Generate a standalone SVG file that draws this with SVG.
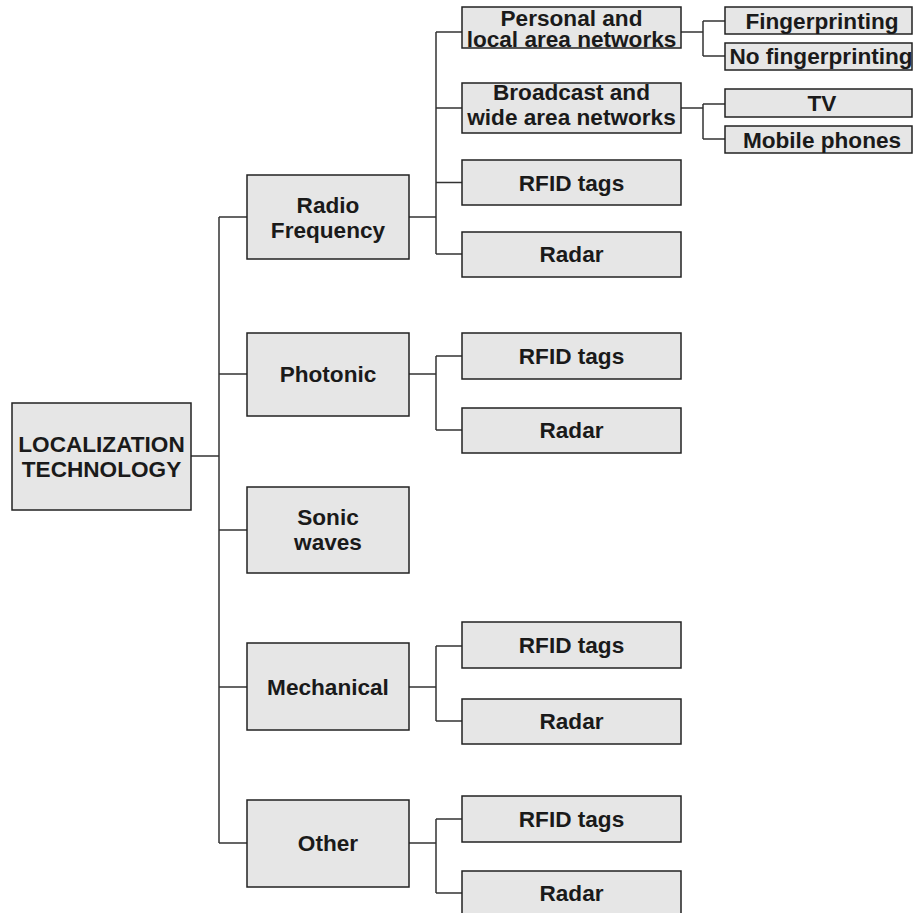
<svg xmlns="http://www.w3.org/2000/svg" width="913" height="913" viewBox="0 0 913 913">
<style>
.box{fill:#e6e6e6;stroke:#222;stroke-width:1.5}
.t{font-family:"Liberation Sans",Arial,sans-serif;font-weight:bold;font-size:22.6px;fill:#1a1a1a;text-anchor:middle}
.c{fill:none;stroke:#333;stroke-width:1.5}
</style>
<rect width="913" height="913" fill="#fff"/>
<g id="connectors" class="c">
<path d="M191 456H219M219 217V843M219 217H247M219 374H247M219 530H247M219 687H247M219 843H247"/>
<path d="M409 217H436M436 32V254M436 32H462M436 108H462M436 182.5H462M436 254H462"/>
<path d="M409 374H436M436 356V430M436 356H462M436 430H462"/>
<path d="M409 687H436M436 646V721M436 646H462M436 721H462"/>
<path d="M409 843H436M436 819V893M436 819H462M436 893H462"/>
<path d="M681 32H703M703 21V56M703 21H725M703 56H725"/>
<path d="M681 108H703M703 104V139M703 104H725M703 139H725"/>
</g>
<g id="root"><rect class="box" x="12" y="403" width="179" height="107"/><text class="t" x="101.5" y="452">LOCALIZATION</text><text class="t" x="101.5" y="477">TECHNOLOGY</text></g>
<g id="radio"><rect class="box" x="247" y="175" width="162" height="84"/><text class="t" x="328" y="212.5">Radio</text><text class="t" x="328" y="238">Frequency</text></g>
<g id="photonic"><rect class="box" x="247" y="333" width="162" height="83"/><text class="t" x="328" y="382">Photonic</text></g>
<g id="sonic"><rect class="box" x="247" y="487" width="162" height="86"/><text class="t" x="328" y="525">Sonic</text><text class="t" x="328" y="550">waves</text></g>
<g id="mechanical"><rect class="box" x="247" y="643" width="162" height="87"/><text class="t" x="328" y="694.5">Mechanical</text></g>
<g id="other"><rect class="box" x="247" y="800" width="162" height="87"/><text class="t" x="328" y="850.5">Other</text></g>
<g id="personal"><rect class="box" x="462" y="7" width="219" height="41"/><text class="t" x="571.5" y="26">Personal and</text><text class="t" x="571.5" y="46.5">local area networks</text></g>
<g id="broadcast"><rect class="box" x="462" y="83" width="219" height="50"/><text class="t" x="571.5" y="100">Broadcast and</text><text class="t" x="571.5" y="125">wide area networks</text></g>
<g id="rf-rfid"><rect class="box" x="462" y="160" width="219" height="45"/><text class="t" x="571.5" y="190.5">RFID tags</text></g>
<g id="rf-radar"><rect class="box" x="462" y="232" width="219" height="45"/><text class="t" x="571.5" y="262">Radar</text></g>
<g id="ph-rfid"><rect class="box" x="462" y="333" width="219" height="46"/><text class="t" x="571.5" y="364">RFID tags</text></g>
<g id="ph-radar"><rect class="box" x="462" y="408" width="219" height="45"/><text class="t" x="571.5" y="438">Radar</text></g>
<g id="me-rfid"><rect class="box" x="462" y="622" width="219" height="46"/><text class="t" x="571.5" y="653">RFID tags</text></g>
<g id="me-radar"><rect class="box" x="462" y="699" width="219" height="45"/><text class="t" x="571.5" y="729">Radar</text></g>
<g id="ot-rfid"><rect class="box" x="462" y="796" width="219" height="46"/><text class="t" x="571.5" y="827">RFID tags</text></g>
<g id="ot-radar"><rect class="box" x="462" y="871" width="219" height="45"/><text class="t" x="571.5" y="901">Radar</text></g>
<g id="fingerprinting"><rect class="box" x="725" y="7" width="187" height="27"/><text class="t" x="822" y="28.5">Fingerprinting</text></g>
<g id="no-fingerprinting"><rect class="box" x="725" y="43" width="187" height="27"/><text class="t" x="821" y="63.5">No fingerprinting</text></g>
<g id="tv"><rect class="box" x="725" y="89" width="187" height="28"/><text class="t" x="822" y="111">TV</text></g>
<g id="mobile"><rect class="box" x="725" y="126" width="187" height="27"/><text class="t" x="822" y="147.5">Mobile phones</text></g>
</svg>
